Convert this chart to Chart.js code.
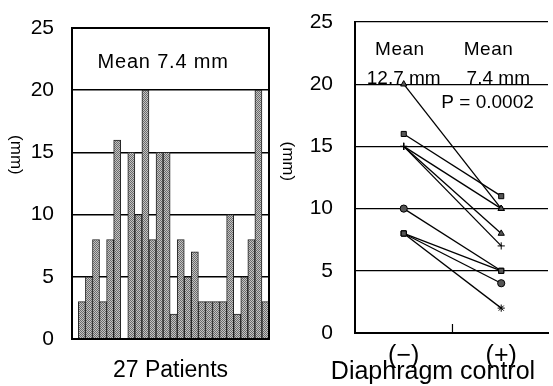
<!doctype html>
<html lang="en">
<head>
  <meta charset="utf-8">
  <title>Diaphragm control</title>
  <script src="https://cdn.jsdelivr.net/npm/chart.js@4.4.0/dist/chart.umd.min.js"></script>
  <style>
    body { margin: 0; background: #fff; }
    canvas { position: absolute; top: 0; }
    #left { left: 0; }
    #right { left: 280px; }
  </style>
</head>
<body>
  <canvas id="left" width="280" height="386"></canvas>
  <canvas id="right" width="273" height="386"></canvas>

  <script>
    // bar chart: one value per patient (mm)
    var patients = [3, 5, 8, 3, 8, 16, 0, 15, 10, 20, 8, 15, 15, 2, 8, 5, 7, 3, 3, 3, 3, 10, 2, 5, 8, 20, 3];
    var yTicks = [0, 5, 10, 15, 20, 25];

    // paired values: without (-) and with (+) diaphragm control
    var before = [20, 16, 15, 15, 15, 10, 8, 8, 8];
    var after = [10, 11, 10, 8, 7, 5, 5, 4, 2];
    var markBefore = ['triangle', 'rect', 'cross', 'cross', 'cross', 'circle', 'rect', 'rect', 'rect'];
    var markAfter = ['triangle', 'rect', 'triangle', 'triangle', 'cross', 'rect', 'rect', 'circle', 'star'];
    var groups = ['(\u2212)', '(+)'];

    var sans = "'Liberation Sans', Arial, sans-serif";

    // stippled gray fill like the print
    var pc = document.createElement('canvas');
    pc.width = 2; pc.height = 2;
    var pctx = pc.getContext('2d');
    pctx.fillStyle = '#c4c4c4'; pctx.fillRect(0, 0, 2, 2);
    pctx.fillStyle = '#6a6a6a'; pctx.fillRect(0, 0, 1, 1); pctx.fillRect(1, 1, 1, 1);
    var stipple = pctx.createPattern(pc, 'repeat');

    // free text, and "(mm)" rotated to read top to bottom
    function notes(items, unit) {
      return {
        id: 'notes',
        afterDraw: function (chart) {
          var c = chart.ctx, xs = chart.scales.x, ys = chart.scales.y;
          c.save();
          c.fillStyle = '#000';
          c.textAlign = 'center';
          c.textBaseline = 'middle';
          items.forEach(function (t) {
            c.font = t.font;
            c.letterSpacing = t.spacing || '0px';
            c.fillText(t.text, xs.getPixelForValue(t.x), ys.getPixelForValue(t.y));
          });
          c.letterSpacing = '0px';
          c.translate(unit.x, ys.getPixelForValue(unit.y));
          c.rotate(Math.PI / 2);
          c.font = unit.font;
          c.fillText('(mm)', 0, 0);
          c.restore();
        }
      };
    }

    var frame = {
      id: 'frame',
      afterDraw: function (chart) {
        var a = chart.chartArea, c = chart.ctx;
        c.save();
        c.strokeStyle = '#000';
        c.lineWidth = 2;
        c.strokeRect(a.left, a.top, a.right - a.left, a.bottom - a.top);
        c.restore();
      }
    };

    var midTick = {
      id: 'midTick',
      afterDraw: function (chart) {
        var c = chart.ctx, x = chart.scales.x.getPixelForValue(0.5), b = chart.chartArea.bottom;
        c.save();
        c.strokeStyle = '#000';
        c.lineWidth = 1.2;
        c.beginPath();
        c.moveTo(x, b);
        c.lineTo(x, b - 9);
        c.stroke();
        c.restore();
      }
    };

    function fixWidth(w) {
      return function (s) { s.width = w; s.paddingTop = 0; s.paddingBottom = 0; };
    }
    function fixHeight(h) {
      return function (s) { s.height = h; s.paddingLeft = 0; s.paddingRight = 0; };
    }

    new Chart(document.getElementById('left'), {
      type: 'bar',
      data: {
        datasets: [{
          data: patients.map(function (v, i) { return { x: i, y: v }; }),
          backgroundColor: stipple,
          borderColor: '#222',
          borderWidth: 1,
          borderSkipped: 'bottom',
          barPercentage: 1,
          categoryPercentage: 1
        }]
      },
      options: {
        responsive: false,
        animation: false,
        layout: { padding: { top: 28, right: 11, left: 0, bottom: 0 } },
        plugins: { legend: { display: false }, tooltip: { enabled: false } },
        scales: {
          x: {
            type: 'linear',
            offset: false,
            min: -1.4,
            max: 26.5,
            ticks: { display: false },
            grid: { display: false },
            border: { color: '#000', width: 2 },
            title: { display: true, text: '27 Patients', color: '#000', font: { family: sans, size: 23 }, padding: { top: 0, bottom: 2 } },
            afterFit: fixHeight(47)
          },
          y: {
            min: 0,
            max: 25,
            afterBuildTicks: function (s) { s.ticks = yTicks.map(function (v) { return { value: v }; }); },
            ticks: { color: '#000', padding: 18, font: { family: sans, size: 21 } },
            grid: { color: '#000', lineWidth: 1.5, drawTicks: false },
            border: { color: '#000', width: 2 },
            afterFit: fixWidth(72)
          }
        }
      },
      plugins: [frame, notes(
        [{ text: 'Mean 7.4 mm', x: 11.5, y: 22.2, font: '20px ' + sans, spacing: '0.8px' }],
        { x: 16, y: 14.8, font: '17px ' + sans })]
    });

    new Chart(document.getElementById('right'), {
      type: 'line',
      data: {
        datasets: before.map(function (b, i) {
          return {
            data: [{ x: 0, y: b }, { x: 1, y: after[i] }],
            borderColor: '#000',
            borderWidth: 1.3,
            pointStyle: [markBefore[i], markAfter[i]],
            pointRadius: 3.6,
            pointBackgroundColor: '#555',
            pointBorderColor: '#000',
            pointBorderWidth: 1
          };
        })
      },
      options: {
        responsive: false,
        animation: false,
        layout: { padding: { top: 22, right: 0, left: 0, bottom: 0 } },
        plugins: { legend: { display: false }, tooltip: { enabled: false } },
        scales: {
          x: {
            type: 'linear',
            min: -0.5,
            max: 1.48,
            afterBuildTicks: function (s) { s.ticks = [{ value: 0 }, { value: 1 }]; },
            ticks: {
              color: '#000',
              padding: 0,
              maxRotation: 0,
              font: { family: sans, size: 25 },
              callback: function (v) { return groups[v]; }
            },
            grid: { display: false },
            border: { color: '#000', width: 2 },
            afterFit: fixHeight(53)
          },
          y: {
            min: 0,
            max: 25,
            afterBuildTicks: function (s) { s.ticks = yTicks.map(function (v) { return { value: v }; }); },
            ticks: { color: '#000', padding: 22, font: { family: sans, size: 21 } },
            grid: { color: '#000', lineWidth: 1.3, drawTicks: false },
            border: { color: '#000', width: 2 },
            afterFit: fixWidth(75)
          }
        }
      },
      plugins: [midTick, notes(
        [
          { text: 'Mean', x: -0.04, y: 22.8, font: '19px ' + sans, spacing: '0.5px' },
          { text: 'Mean', x: 0.87, y: 22.8, font: '19px ' + sans, spacing: '0.5px' },
          { text: '12.7 mm', x: 0, y: 20.4, font: '19px ' + sans },
          { text: '7.4 mm', x: 0.97, y: 20.4, font: '19px ' + sans },
          { text: 'P = 0.0002', x: 0.86, y: 18.5, font: '19px ' + sans },
          { text: 'Diaphragm control', x: 0.3, y: -3.13, font: '25px ' + sans }
        ],
        { x: 8, y: 13.8, font: '17px ' + sans })]
    });
  </script>
</body>
</html>
